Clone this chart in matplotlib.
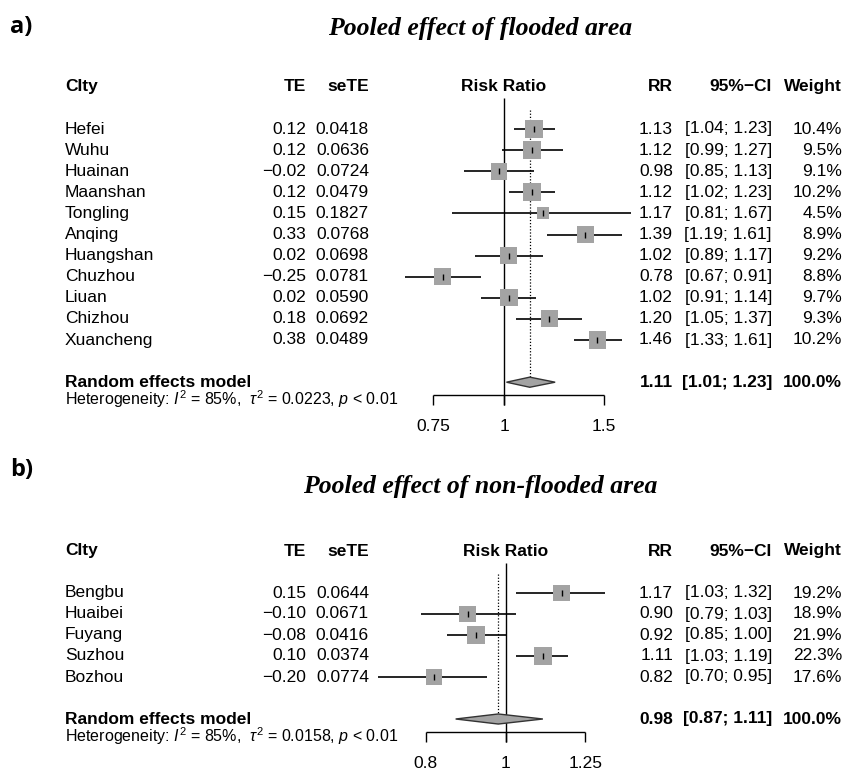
import numpy as np
import matplotlib
matplotlib.use("Agg")
import matplotlib.pyplot as plt
import matplotlib.transforms as mtransforms

plt.rcParams['font.family'] = ['Liberation Sans', 'DejaVu Sans']
plt.rcParams['mathtext.fontset'] = 'custom'
plt.rcParams['mathtext.rm'] = 'Liberation Sans'
plt.rcParams['mathtext.it'] = 'Liberation Sans:italic'

# ---- data: flooded area ----
flood_city = ['Hefei', 'Wuhu', 'Huainan', 'Maanshan', 'Tongling', 'Anqing',
              'Huangshan', 'Chuzhou', 'Liuan', 'Chizhou', 'Xuancheng']
flood_te = [0.12, 0.12, -0.02, 0.12, 0.15, 0.33, 0.02, -0.25, 0.02, 0.18, 0.38]
flood_sete = [0.0418, 0.0636, 0.0724, 0.0479, 0.1827, 0.0768, 0.0698, 0.0781, 0.0590, 0.0692, 0.0489]
flood_rr = [1.13, 1.12, 0.98, 1.12, 1.17, 1.39, 1.02, 0.78, 1.02, 1.20, 1.46]
flood_lo = [1.04, 0.99, 0.85, 1.02, 0.81, 1.19, 0.89, 0.67, 0.91, 1.05, 1.33]
flood_hi = [1.23, 1.27, 1.13, 1.23, 1.67, 1.61, 1.17, 0.91, 1.14, 1.37, 1.61]
flood_w = [10.4, 9.5, 9.1, 10.2, 4.5, 8.9, 9.2, 8.8, 9.7, 9.3, 10.2]
flood_pooled = [1.11, 1.01, 1.23]
flood_tau2 = 0.0223
flood_ticks = [0.75, 1, 1.5]

# ---- data: non-flooded area ----
nonflood_city = ['Bengbu', 'Huaibei', 'Fuyang', 'Suzhou', 'Bozhou']
nonflood_te = [0.15, -0.10, -0.08, 0.10, -0.20]
nonflood_sete = [0.0644, 0.0671, 0.0416, 0.0374, 0.0774]
nonflood_rr = [1.17, 0.90, 0.92, 1.11, 0.82]
nonflood_lo = [1.03, 0.79, 0.85, 1.03, 0.70]
nonflood_hi = [1.32, 1.03, 1.00, 1.19, 0.95]
nonflood_w = [19.2, 18.9, 21.9, 22.3, 17.6]
nonflood_pooled = [0.98, 0.87, 1.11]
nonflood_tau2 = 0.0158
nonflood_ticks = [0.8, 1, 1.25]

W, H = 843, 769
FS = 12.5


def fmt(v, nd):
    return f"{v:.{nd}f}".replace('-', '\u2212')


def draw_panel(fig, letter, letter_y, title, title_y, cities, te, sete, rr, lo, hi, w,
               pooled, tau2, ticks, row0, rowh, x_one, px_per_ln):
    n = len(cities)
    # axes spanning the full width; rows are data units
    top_px = row0 - 4 * rowh
    bot_px = row0 + (n + 4) * rowh
    ax = fig.add_axes([0, 1 - bot_px / H, 1, (bot_px - top_px) / H])
    ax.set_xscale('log')
    ax.set_xlim(np.exp(-x_one / px_per_ln), np.exp((W - x_one) / px_per_ln))
    ax.set_ylim((bot_px - row0) / rowh, (top_px - row0) / rowh)
    ax.axis('off')
    tr = mtransforms.blended_transform_factory(fig.transFigure, ax.transData)

    fig.text(10 / W, 1 - letter_y / H, letter, fontsize=17, fontweight='bold',
             family='Open Sans', va='center')
    fig.text(480 / W, 1 - title_y / H, title, fontsize=18.5, fontweight='bold',
             style='italic', family='Liberation Serif', ha='center', va='center')

    # headers
    hy = -2
    ax.text(65 / W, hy, 'CIty', transform=tr, fontsize=FS, fontweight='bold', va='center')
    ax.text(306 / W, hy, 'TE', transform=tr, fontsize=FS, fontweight='bold', va='center', ha='right')
    ax.text(369 / W, hy, 'seTE', transform=tr, fontsize=FS, fontweight='bold', va='center', ha='right')
    ax.text(1, hy, 'Risk Ratio', fontsize=FS, fontweight='bold', va='center', ha='center')
    ax.text(673 / W, hy, 'RR', transform=tr, fontsize=FS, fontweight='bold', va='center', ha='right')
    ax.text(772 / W, hy, '95%\u2212CI', transform=tr, fontsize=FS, fontweight='bold', va='center', ha='right')
    ax.text(842 / W, hy, 'Weight', transform=tr, fontsize=FS, fontweight='bold', va='center', ha='right')

    rows = np.arange(n)
    for i in rows:
        ax.text(65 / W, i, cities[i], transform=tr, fontsize=FS, va='center')
        ax.text(306 / W, i, fmt(te[i], 2), transform=tr, fontsize=FS, va='center', ha='right')
        ax.text(369 / W, i, fmt(sete[i], 4), transform=tr, fontsize=FS, va='center', ha='right')
        ax.text(673 / W, i, fmt(rr[i], 2), transform=tr, fontsize=FS, va='center', ha='right')
        ax.text(772 / W, i, f"[{fmt(lo[i], 2)}; {fmt(hi[i], 2)}]", transform=tr,
                fontsize=FS, va='center', ha='right')
        ax.text(842 / W, i, f"{w[i]:.1f}%", transform=tr, fontsize=FS, va='center', ha='right')

    # reference lines
    ys = n + 1
    ax.vlines(1, -1.45, n + 2.1, color='black', lw=1.0)
    ax.vlines(pooled[0], -0.9, ys - 0.25, color='black', lw=0.9, linestyles=(0, (1, 1.5)))

    # CIs and squares
    ax.hlines(rows, lo, hi, color='black', lw=1.2, zorder=2)
    side = 18 * np.sqrt(np.array(w) / max(w)) * 0.72
    ax.scatter(rr, rows, marker='s', s=side ** 2, color='#a3a3a3', lw=0, zorder=3)
    ax.plot(rr, rows, ls='none', marker='|', ms=5, mew=1.0, color='black', zorder=4)

    # summary diamond
    h = 0.24
    ax.fill([pooled[1], pooled[0], pooled[2], pooled[0]], [ys, ys - h, ys, ys + h],
            facecolor='#a3a3a3', edgecolor='#333333', lw=1.0, zorder=3)
    ax.text(65 / W, ys, 'Random effects model', transform=tr, fontsize=FS,
            fontweight='bold', va='center')
    ax.text(673 / W, ys, fmt(pooled[0], 2), transform=tr, fontsize=FS, fontweight='bold',
            va='center', ha='right')
    ax.text(772 / W, ys, f"[{fmt(pooled[1], 2)}; {fmt(pooled[2], 2)}]", transform=tr,
            fontsize=FS, fontweight='bold', va='center', ha='right')
    ax.text(842 / W, ys, '100.0%', transform=tr, fontsize=FS, fontweight='bold',
            va='center', ha='right')
    ax.text(65 / W, ys + 0.8,
            r'Heterogeneity: $I^2$ = 85%,  $\tau^2$ = ' + f'{tau2:.4f}' + r', $p$ < 0.01',
            transform=tr, fontsize=11.5, va='center')

    # x axis
    ya = ys + 0.6
    ax.hlines(ya, ticks[0], ticks[-1], color='black', lw=1.0)
    ax.vlines(ticks, ya, ya + 0.5, color='black', lw=1.0)
    for t in ticks:
        ax.text(t, ya + 1.5, f"{t:g}", fontsize=FS, ha='center', va='center')
    return ax


fig = plt.figure(figsize=(W / 100, H / 100), dpi=100)

draw_panel(fig, 'a)', 27, 'Pooled effect of flooded area', 28,
           flood_city, flood_te, flood_sete, flood_rr, flood_lo, flood_hi, flood_w,
           flood_pooled, flood_tau2, flood_ticks,
           row0=129, rowh=21.1, x_one=504, px_per_ln=247)

draw_panel(fig, 'b)', 470, 'Pooled effect of non-flooded area', 486,
           nonflood_city, nonflood_te, nonflood_sete, nonflood_rr, nonflood_lo, nonflood_hi,
           nonflood_w, nonflood_pooled, nonflood_tau2, nonflood_ticks,
           row0=593, rowh=21.0, x_one=505.5, px_per_ln=358)

fig.savefig('out.png', dpi=100)
